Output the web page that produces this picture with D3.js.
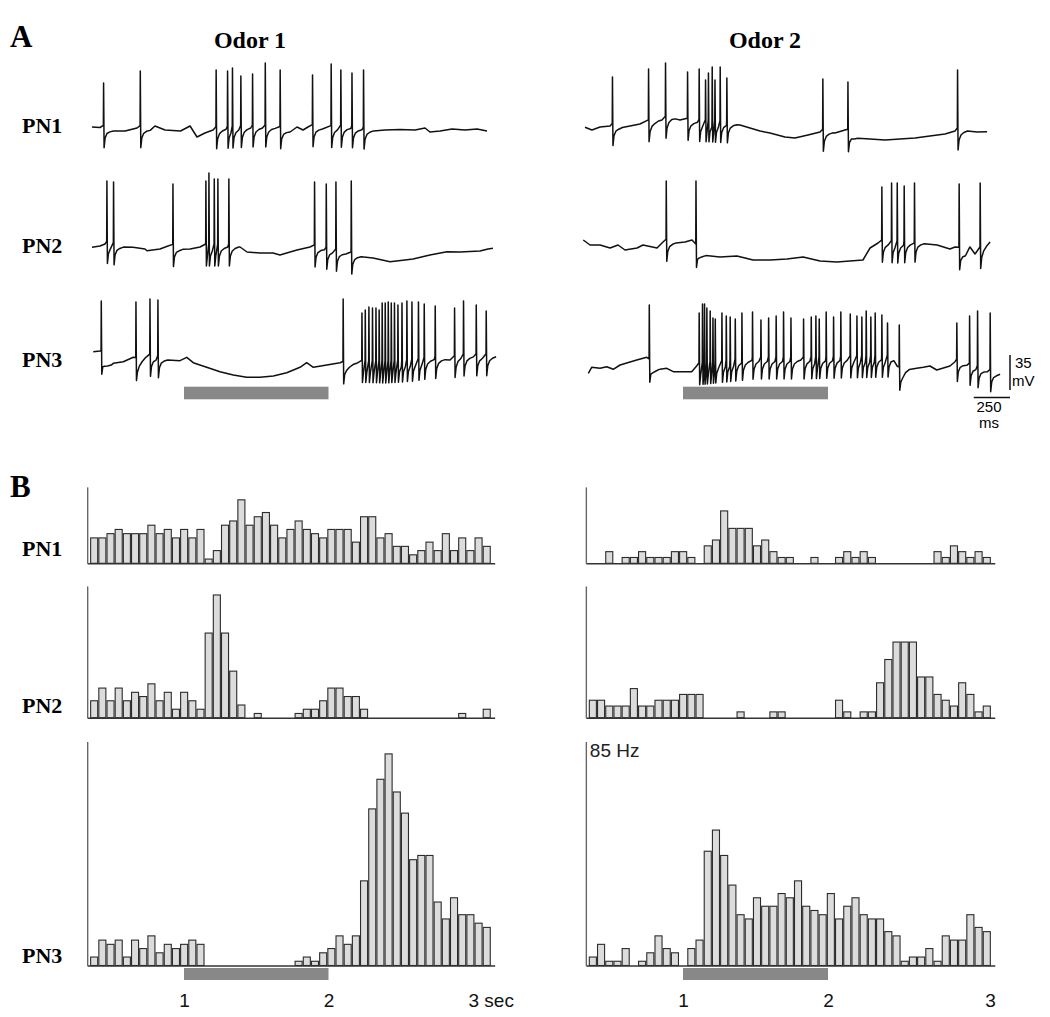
<!DOCTYPE html>
<html>
<head>
<meta charset="utf-8">
<script src="https://cdn.jsdelivr.net/npm/d3@7"></script>
<style>
  body { margin: 0; background: #fff; }
  svg { display: block; }
</style>
</head>
<body>
<svg id="fig" width="1050" height="1017"></svg>
<script>
// ---- data ----------------------------------------------------------------
const odors = ["Odor 1", "Odor 2"];
const neurons = ["PN1", "PN2", "PN3"];
const timeTicks = [1, 2, 3];
const odorOnOff = [1, 2];            // odor delivery, sec
const scaleBarMv = 35, scaleBarMs = 250;

// PSTH: spike counts summed over trials, bins from binStart sec
const binStart = 0.35, binWidth = 0.0566;
const trials = [[11, 8], [11, 8], [11, 11]];
const rowMaxHz = [29, 50, 85];
const countsPN1Odor1 = [6,6,7,8,7,7,7,9,7,8, 6,8,6,8,1,3,9,10,15,9, 11,12,9,6,8,10,8,7,6,8, 8,8,5,11,11,6,7,4,4,2, 3,5,3,7,3,6,3,6,4];
const countsPN1Odor2 = [0,0,2,0,1,1,2,1,1,1, 2,2,1,0,3,4,9,6,6,6, 3,4,2,1,1,0,0,1,0,0, 1,2,1,2,1,0,0,0,0,0, 0,0,2,1,3,2,1,2,1];
const countsPN2Odor1 = [4,7,4,7,4,6,5,8,4,6, 2,6,4,2,20,29,20,11,3,0, 1,0,0,0,0,1,2,2,4,7, 7,5,5,2,0,0,0,0,0,0, 0,0,0,0,0,1,0,0,2];
const countsPN2Odor2 = [3,3,2,2,2,5,2,2,3,3, 3,4,4,4,0,0,0,0,1,0, 0,0,1,1,0,0,0,0,0,0, 3,1,0,1,1,6,10,13,13,13, 7,7,4,3,2,6,4,1,2];
const countsPN3Odor1 = [2,6,5,6,2,6,4,7,3,5, 4,5,6,5,0,0,0,0,0,0, 0,0,0,0,0,1,2,1,3,4, 7,5,7,20,37,44,50,41,36,25, 26,26,15,11,16,12,12,10,9];
const countsPN3Odor2 = [2,5,1,1,4,0,1,3,7,4, 3,0,4,6,27,32,26,19,12,11, 16,14,14,17,16,20,14,13,12,17, 11,14,16,12,11,11,8,7,1,2, 2,4,1,7,6,6,12,9,8];

// membrane potential traces: [time sec, mV relative to rest]
const restPN1Odor1 = [[0.363,3],[0.419,2.5],[0.502,-1],[0.592,-1],[0.675,2],[0.765,-0.5],[0.799,4],[0.869,0],[0.976,-1],[1.042,4],[1.090,-7],[1.145,-3],[1.201,0],[1.45,2],[1.62,2],[1.734,-2],[1.782,3],[1.824,0],[1.858,3],[1.95,1],[2.12,2],[2.301,-1],[2.391,0],[2.495,0.5],[2.599,0],[2.668,2],[2.702,-2],[2.772,-1],[2.855,1],[2.945,0],[3.028,1],[3.097,-1]];
const spikesPN1Odor1 = [[0.442,47],[0.696,59],[1.221,60],[1.300,59],[1.334,62],[1.392,54],[1.473,56],[1.561,67],[1.664,60],[1.888,55],[2.017,66],[2.084,60],[2.161,57],[2.241,60]];
const restPN1Odor2 = [[0.324,2.7],[0.372,0],[0.428,3],[0.497,4],[0.566,2],[0.634,4],[0.703,6],[0.807,8],[0.855,10],[0.924,12],[0.979,10],[1.062,8],[1.2,7],[1.324,6],[1.393,5],[1.462,2],[1.531,-1],[1.6,-3],[1.703,-7],[1.772,-8],[1.862,-5],[1.945,-2],[2.048,-3],[2.117,0],[2.186,-8],[2.290,-9],[2.393,-10],[2.497,-9],[2.6,-8],[2.703,-6],[2.807,-4],[2.876,-1],[2.959,-1],[3.028,-2],[3.097,-1.7]];
const spikesPN1Odor2 = [[0.512,53],[0.761,61],[0.878,67],[1.030,58],[1.110,61],[1.154,50],[1.174,57],[1.200,63],[1.219,50],[1.255,63],[1.301,52],[1.963,51],[2.136,48],[2.892,60]];
const restPN2Odor1 = [[0.363,0.7],[0.419,2],[0.453,4],[0.557,1],[0.647,0.7],[0.730,-1],[0.744,-2.7],[0.834,-1],[0.889,2],[0.972,-1.5],[1.042,-1],[1.111,1],[1.25,1],[1.388,1],[1.436,-4],[1.526,-5],[1.616,-5],[1.664,-7],[1.734,-4],[1.782,-2],[1.872,1],[2.218,-8.7],[2.308,-10],[2.426,-13.7],[2.529,-12],[2.585,-11],[2.702,-7],[2.820,-3.7],[2.910,-4],[3.048,-3],[3.104,-1],[3.138,-0.3]];
const spikesPN2Odor1 = [[0.465,67],[0.511,66],[0.922,64],[1.150,67],[1.171,75],[1.208,69],[1.233,69],[1.309,69],[1.902,66],[1.983,64],[2.050,66],[2.156,67]];
const restPN2Odor2 = [[0.312,8],[0.359,3],[0.428,3],[0.497,0],[0.552,3],[0.6,-2],[0.683,0],[0.724,3],[0.821,0],[0.862,6],[0.945,5],[1.014,6],[1.062,8],[1.117,-7],[1.255,-9],[1.372,-8],[1.483,-12],[1.6,-12],[1.717,-11],[1.828,-9],[1.945,-13],[2.062,-14],[2.241,-12],[2.290,0],[2.345,5],[2.5,4],[2.614,5],[2.752,3],[2.841,-1],[2.876,1],[2.945,-7],[2.979,1],[3.014,-6],[3.117,6]];
const spikesPN2Odor2 = [[0.883,67],[1.088,67],[2.370,61],[2.437,65],[2.476,65],[2.524,62],[2.595,65],[2.903,64],[3.048,65]];
const restPN3Odor1 = [[0.372,10.3],[0.419,11],[0.453,-1],[0.488,-4],[0.511,-1.3],[0.58,0.3],[0.649,4.7],[0.68,-1.3],[0.742,5.3],[0.880,2],[0.972,1.3],[1.019,4.7],[1.064,-0.7],[1.157,-5.3],[1.249,-9.7],[1.341,-13],[1.434,-15.3],[1.526,-15.3],[1.618,-14],[1.711,-10.7],[1.803,-5.3],[1.849,-0.7],[1.895,-5.3],[1.988,-3],[2.080,-0.7],[2.126,-4.7],[2.195,-1.3],[2.4,-2],[2.6,0],[2.680,2],[2.772,2.7],[2.841,2],[2.910,5],[3.141,5.3]];
const spikesPN3Odor1 = [[0.426,61],[0.666,60],[0.763,63],[0.818,62],[2.100,63],[2.230,49],[2.253,52],[2.278,55],[2.303,54],[2.327,54],[2.349,52],[2.370,59],[2.391,59],[2.412,60],[2.433,59],[2.455,59],[2.479,57],[2.507,59],[2.541,61],[2.576,60],[2.621,60],[2.661,58],[2.737,56],[2.871,54],[2.933,61],[3.021,57],[3.090,51]];
const restPN3Odor2 = [[0.347,-11.3],[0.370,-5.3],[0.428,-6.3],[0.474,-4.7],[0.519,-7.3],[0.566,-3],[0.681,2],[0.750,4.7],[0.795,-8],[0.841,-7.3],[0.888,-6.3],[0.933,-9.7],[1.002,-9.7],[1.060,-9.7],[1.094,-4],[1.5,2],[1.8,2],[2.1,3],[2.45,4],[2.508,-13],[2.543,-8],[2.612,-6.3],[2.657,-5.3],[2.703,-4],[2.750,-8],[2.841,-4],[2.876,0.3],[3.159,-12.3]];
const spikesPN3Odor2 = [[0.766,57],[1.110,49],[1.133,58],[1.147,58],[1.163,54],[1.186,51],[1.205,44],[1.221,43],[1.267,49],[1.297,46],[1.324,45],[1.359,43],[1.405,49],[1.478,50],[1.536,42],[1.589,44],[1.641,46],[1.692,50],[1.743,44],[1.830,43],[1.883,45],[1.915,46],[1.938,43],[1.986,50],[2.037,45],[2.087,50],[2.152,48],[2.198,46],[2.232,45],[2.262,51],[2.294,45],[2.324,49],[2.370,47],[2.409,39],[2.490,37],[2.887,39],[2.975,46],[3.030,51],[3.117,49]];

const psth = [[countsPN1Odor1, countsPN1Odor2], [countsPN2Odor1, countsPN2Odor2], [countsPN3Odor1, countsPN3Odor2]];
const traces = [
  [[restPN1Odor1, spikesPN1Odor1], [restPN1Odor2, spikesPN1Odor2]],
  [[restPN2Odor1, spikesPN2Odor1], [restPN2Odor2, spikesPN2Odor2]],
  [[restPN3Odor1, spikesPN3Odor1], [restPN3Odor2, spikesPN3Odor2]]
];

// ---- layout ----------------------------------------------------------------
const svg = d3.select("#fig");
const serif = "'Liberation Serif', 'Times New Roman', serif";
const sans = "'Liberation Sans', Arial, sans-serif";

// one time scale per column (sec -> px)
const xCols = [
  d3.scaleLinear().domain([1, 2]).range([184, 328.5]),
  d3.scaleLinear().domain([1, 2]).range([683, 828])
];
const traceRest = [130, 248, 362];       // y of 0 mV in each trace row
const pxPerMv = 1;
const histBase = [563.3, 717.7, 965.5];
const pxPerHz = 2.635;
const axisT = [0.33, 3.15];

// spike waveform template: [dt sec, mV from local rest]; index 1 is the peak
const spikeShape = [[0, 3], [0.0015, null], [0.005, -19], [0.012, -9], [0.025, -4], [0.045, -1.5], [0.07, 0]];

function tracePoints(rest, spikes) {
  const local = d3.scaleLinear().domain(rest.map(d => d[0])).range(rest.map(d => d[1])).clamp(true);
  const times = spikes.map(s => s[0]);
  const pts = rest.filter(([t]) => !times.some(s => t > s - 0.002 && t < s + 0.07));
  spikes.forEach(([t, peak], i) => {
    const next = i + 1 < spikes.length ? spikes[i + 1][0] : Infinity;
    spikeShape.forEach(([dt, dv], j) => {
      const tt = t + dt;
      if (j > 1 && tt >= next - 0.001) return;
      pts.push([tt, j === 1 ? peak : local(tt) + dv]);
    });
  });
  return pts.sort((a, b) => a[0] - b[0]);
}

// ---- panel A: traces ------------------------------------------------------
const gA = svg.append("g");
gA.append("text").attr("x", 10).attr("y", 47).text("A")
  .style("font-family", serif).style("font-weight", "bold").style("font-size", "31px");

const headerX = [250, 765];
odors.forEach((o, c) => {
  gA.append("text").attr("x", headerX[c]).attr("y", 48).attr("text-anchor", "middle").text(o)
    .style("font-family", serif).style("font-weight", "bold").style("font-size", "24px");
});

neurons.forEach((n, r) => {
  gA.append("text").attr("x", 22).attr("y", traceRest[r] + 3 + (r === 0 ? 0 : 2)).text(n)
    .style("font-family", serif).style("font-weight", "bold").style("font-size", "22px");
  const y = d3.scaleLinear().domain([0, 35]).range([traceRest[r], traceRest[r] - 35 * pxPerMv]);
  [0, 1].forEach(c => {
    const x = xCols[c];
    const [rest, spikes] = traces[r][c];
    const line = d3.line().x(d => x(d[0])).y(d => y(d[1]));
    gA.append("path").attr("d", line(tracePoints(rest, spikes)))
      .attr("fill", "none").attr("stroke", "#111").attr("stroke-width", 1.5)
      .attr("stroke-linejoin", "round");
  });
});

// odor bars under traces
xCols.forEach(x => {
  gA.append("rect").attr("x", x(odorOnOff[0])).attr("width", x(odorOnOff[1]) - x(odorOnOff[0]))
    .attr("y", 386.7).attr("height", 12.6).attr("fill", "#888");
});

// scale bar
{
  const x = xCols[1];
  const yb = d3.scaleLinear().domain([0, scaleBarMv]).range([390, 390 - scaleBarMv * pxPerMv]);
  const x1 = 1010, x0 = x1 - (x(1 + scaleBarMs / 1000) - x(1));
  gA.append("path").attr("d", `M${x1},${yb(scaleBarMv)}V${yb(0)}`).attr("stroke", "#111").attr("stroke-width", 1.5);
  gA.append("path").attr("d", `M${x0},397.5H${x1}`).attr("stroke", "#111").attr("stroke-width", 1.5);
  const st = t => t.style("font-family", sans).style("font-size", "15px");
  st(gA.append("text").attr("x", 1015).attr("y", 368).text(scaleBarMv));
  st(gA.append("text").attr("x", 1012).attr("y", 386).text("mV"));
  st(gA.append("text").attr("x", 989).attr("y", 412).attr("text-anchor", "middle").text(scaleBarMs));
  st(gA.append("text").attr("x", 989).attr("y", 428).attr("text-anchor", "middle").text("ms"));
}

// ---- panel B: PSTHs ---------------------------------------------------------
const gB = svg.append("g");
gB.append("text").attr("x", 10).attr("y", 497).text("B")
  .style("font-family", serif).style("font-weight", "bold").style("font-size", "31px");

const psthLabelY = [556, 713, 963];
neurons.forEach((n, r) => {
  gB.append("text").attr("x", 22).attr("y", psthLabelY[r]).text(n)
    .style("font-family", serif).style("font-weight", "bold").style("font-size", "22px");
  const y = d3.scaleLinear().domain([0, rowMaxHz[r]]).range([histBase[r], histBase[r] - rowMaxHz[r] * pxPerHz]);
  [0, 1].forEach(c => {
    const x = xCols[c];
    const counts = psth[r][c];
    const band = d3.scaleBand().domain(d3.range(counts.length))
      .range([x(binStart), x(binStart + counts.length * binWidth)])
      .paddingInner(0.14).paddingOuter(0.07);
    const toHz = k => k / (trials[r][c] * binWidth);
    const g = gB.append("g");
    g.selectAll("rect").data(counts.map((k, i) => ({ i, hz: toHz(k) })).filter(d => d.hz > 0))
      .join("rect")
      .attr("x", d => band(d.i)).attr("width", band.bandwidth())
      .attr("y", d => y(d.hz)).attr("height", d => y(0) - y(d.hz))
      .attr("fill", "#dcdcdc").attr("stroke", "#2b2b2b").attr("stroke-width", 1.1);
    // axes
    const xAx = d3.scaleLinear().domain(axisT).range([x(axisT[0]), x(axisT[1])]);
    g.append("g").attr("transform", `translate(0,${histBase[r]})`)
      .call(d3.axisBottom(xAx).tickValues([]).tickSizeOuter(0))
      .select(".domain").attr("stroke", "#333").attr("stroke-width", 1.4);
    g.append("g").attr("transform", `translate(${x(axisT[0])},0)`)
      .call(d3.axisLeft(y).tickValues([]).tickSizeOuter(0))
      .select(".domain").attr("stroke", "#666").attr("stroke-width", 1.4);
    if (r === 2 && c === 1) {
      g.append("text").attr("x", x(axisT[0]) + 4).attr("y", y(rowMaxHz[r]) + 15).text(rowMaxHz[r] + " Hz")
        .style("font-family", sans).style("font-size", "19px").attr("fill", "#222");
    }
  });
});

// odor bars and time axis under the bottom row
xCols.forEach((x, c) => {
  gB.append("rect").attr("x", x(odorOnOff[0])).attr("width", x(odorOnOff[1]) - x(odorOnOff[0]))
    .attr("y", 968).attr("height", 12).attr("fill", "#888");
  const ax = gB.append("g").attr("transform", "translate(0,990)")
    .call(d3.axisBottom(x).tickValues(timeTicks).tickSize(0)
      .tickFormat(t => (c === 0 && t === 3) ? "3 sec" : String(t)));
  ax.select(".domain").remove();
  ax.selectAll("text").style("font-family", sans).style("font-size", "19px").attr("fill", "#111")
    .attr("dy", "0.71em");
  if (c === 0) ax.selectAll("text").filter(t => t === 3).attr("text-anchor", "start").attr("dx", "-5");
  // in the original the last label of the right column sits at the axis end
  if (c === 1) ax.selectAll("text").filter(t => t === 3).attr("dx", "17");
});
</script>
</body>
</html>
